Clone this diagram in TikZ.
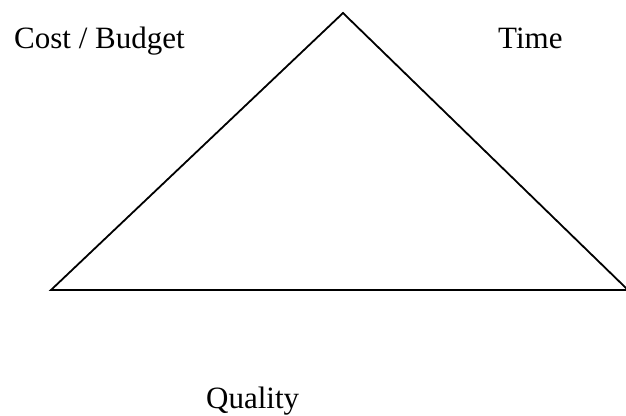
\documentclass[tikz,border=0pt]{standalone}
\usepackage{fontspec}
\setmainfont{Liberation Serif}
\usepackage{tikz}

\tikzset{
  corner/.style={anchor=base west, inner sep=0pt, font=\fontsize{31}{36}\selectfont},
}

\begin{document}
\begin{tikzpicture}[x=1pt, y=-1pt]
            \useasboundingbox (0,0) rectangle (626,415);
            % the three corners
            \coordinate (apex) at (343,13);
            \coordinate (left) at (51,290);
            \coordinate (right) at (628,290);
            \draw[black, line width=1.8pt] (apex) -- (right) -- (left) -- cycle;
            \node[corner] (cost) at (14,48) {Cost / Budget};
            \node[corner] (time) at (498,48) {Time};
            \node[corner] (quality) at (206,408) {Quality};
        \end{tikzpicture}
\end{document}
